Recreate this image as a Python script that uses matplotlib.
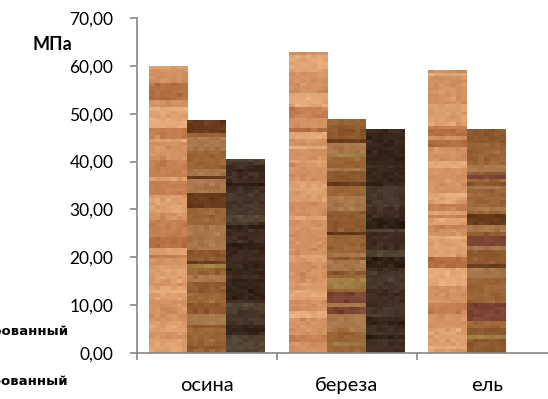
import numpy as np
import matplotlib
matplotlib.use("Agg")
import matplotlib.pyplot as plt
from matplotlib.ticker import FuncFormatter, FixedLocator

plt.rcParams['font.family'] = ['Lato', 'DejaVu Sans']

# --- data ---
categories = ["осина", "береза", "ель"]
series_labels = ["модифицированный", "термомодифицированный", "натуральный"]
s1 = [60.0, 63.0, 59.2]
s2 = [48.7, 48.9, 46.8]
s3 = [40.6, 46.8, None]
y_unit = "МПа"

series = [s1, s2, s3]

# wood palettes per series
palettes = [
    [(222, 160, 110), (210, 146, 98), (228, 170, 122), (196, 128, 80), (180, 112, 66)],
    [(154, 102, 56), (168, 120, 76), (140, 90, 46), (104, 60, 26), (158, 124, 68), (124, 68, 50)],
    [(62, 45, 32), (54, 38, 26), (72, 56, 43), (46, 32, 21), (82, 66, 52)],
]
weights = [
    [0.32, 0.3, 0.18, 0.12, 0.08],
    [0.32, 0.24, 0.2, 0.1, 0.08, 0.06],
    [0.35, 0.25, 0.2, 0.12, 0.08],
]

rng = np.random.default_rng(11)


def wood_texture(pal, w, rows, cols=7):
    pal = np.array(pal, dtype=float)
    idx = rng.choice(len(pal), size=rows, p=w)
    # bands spanning a few rows
    for i in range(1, rows):
        if rng.random() < 0.5:
            idx[i] = idx[i - 1]
    img = pal[idx][:, None, :].repeat(cols, axis=1)
    img += rng.normal(0, 5, size=(rows, cols, 1))
    return np.clip(img, 0, 255).astype(np.uint8)


fig = plt.figure(figsize=(5.48, 3.99), dpi=100)
W, H = 548, 399
x0, x_axis_y, y_top = 137, 353, 18
cat_w = 140
ax = fig.add_axes([x0 / W, (H - x_axis_y) / H, 3 * cat_w / W, (x_axis_y - y_top) / H])

bw = 39 / cat_w
offsets = [-bw, 0, bw]
xc = np.arange(len(categories)) + 0.5

px_per_unit = (x_axis_y - y_top) / 70
for si, vals in enumerate(series):
    for ci, v in enumerate(vals):
        if v is None:
            continue
        left = xc[ci] + offsets[si] - bw / 2
        bar = ax.bar(left, v, width=bw, align='edge', color='none',
                     edgecolor='none', zorder=2)[0]
        rows = max(4, int(v * px_per_unit / 3.5))
        tex = wood_texture(palettes[si], weights[si], rows)
        im = ax.imshow(tex, extent=[left, left + bw, 0, v], aspect='auto',
                       interpolation='nearest', zorder=2, origin='upper')
        im.set_clip_path(bar)

ax.set_xlim(0, 3)
ax.set_ylim(0, 70)

axis_col = '#868686'
for sp in ['top', 'right']:
    ax.spines[sp].set_visible(False)
for sp in ['left', 'bottom']:
    ax.spines[sp].set_color(axis_col)
    ax.spines[sp].set_linewidth(1.2)

ax.set_yticks(np.arange(0, 71, 10))
ax.yaxis.set_major_formatter(FuncFormatter(lambda v, p: f"{v:.2f}".replace('.', ',')))
ax.tick_params(axis='y', direction='out', length=5, width=1.2, color=axis_col,
               labelsize=12.5, labelcolor='#000000', pad=12)

ax.xaxis.set_major_locator(FixedLocator([0, 1, 2, 3]))
ax.xaxis.set_major_formatter(FuncFormatter(lambda v, p: ""))
ax.xaxis.set_minor_locator(FixedLocator(xc))
ax.set_xticklabels(categories, minor=True)
ax.tick_params(axis='x', which='major', direction='out', length=5, width=1.2, color=axis_col)
ax.tick_params(axis='x', which='minor', length=0, labelsize=14.5, pad=17)

fig.text(33 / W, 1 - 45 / H, y_unit, fontsize=13, fontweight='bold', va='center', ha='left')

# legend labels (left side)
for lbl, ypx in zip(series_labels[:2], [331, 381]):
    fig.text(69 / W, 1 - ypx / H, lbl, fontsize=9.5, fontweight='bold',
             family='DejaVu Sans', ha='right', va='center')

fig.savefig("out.png", dpi=100)
